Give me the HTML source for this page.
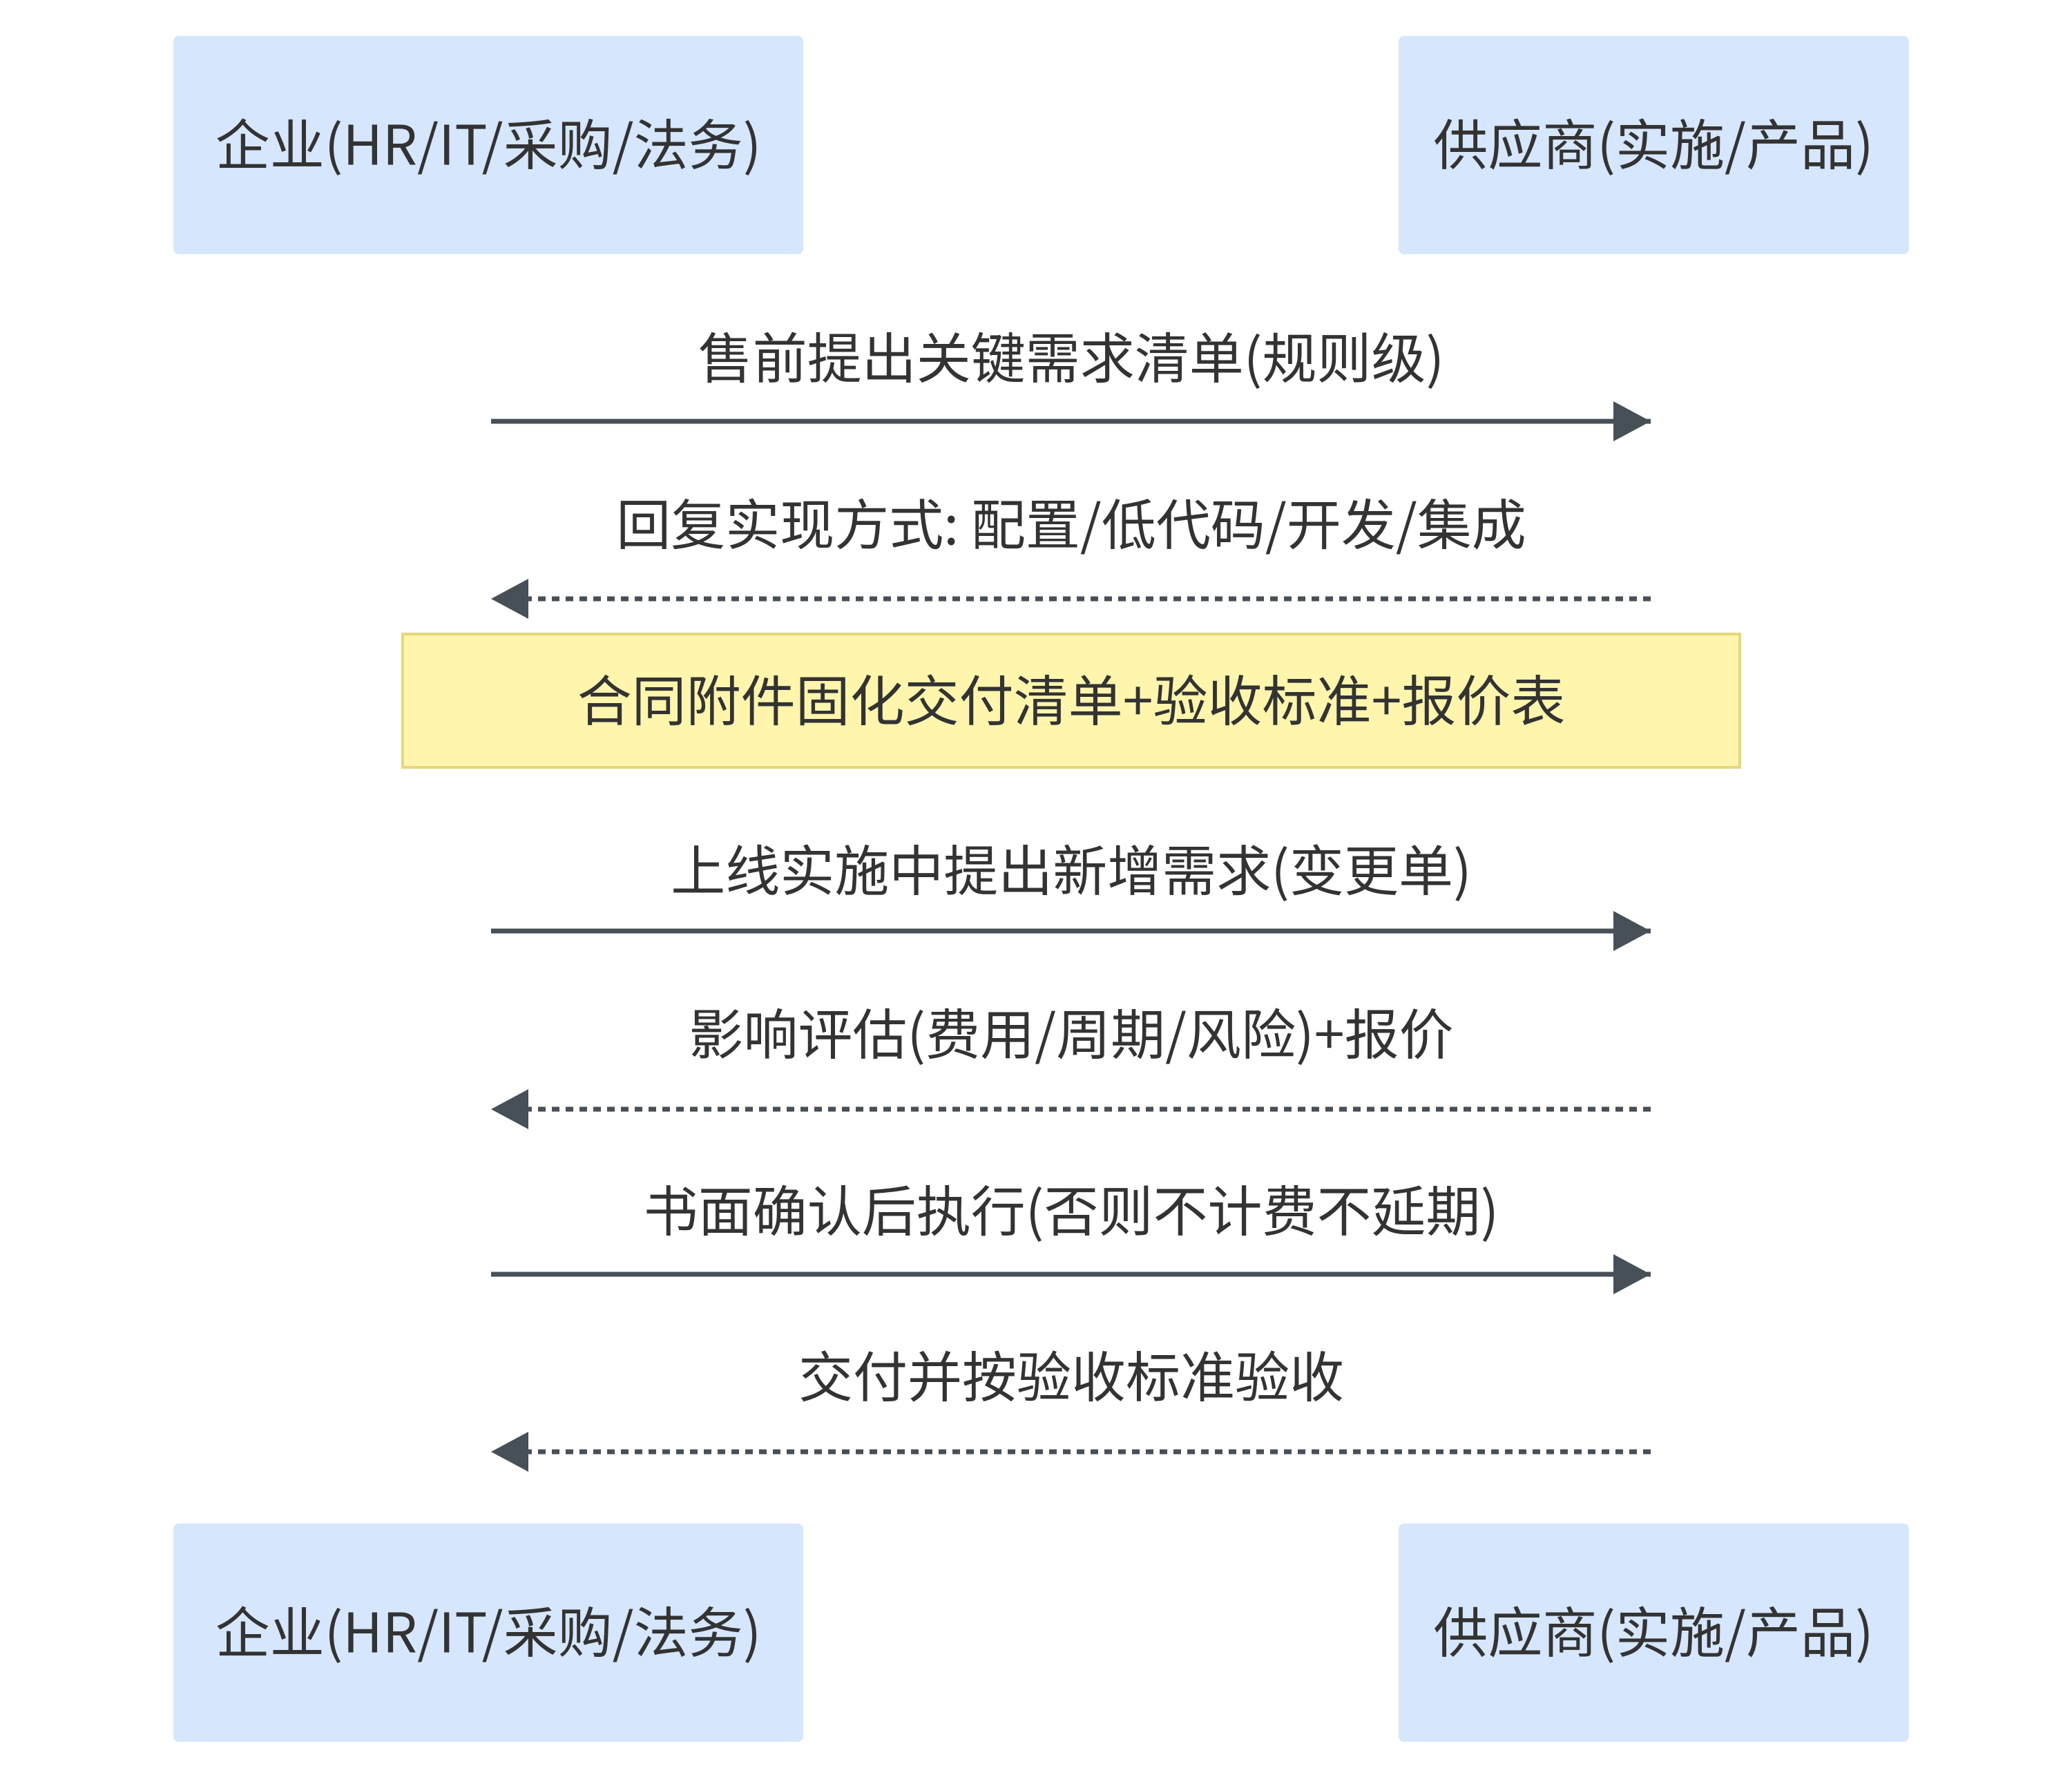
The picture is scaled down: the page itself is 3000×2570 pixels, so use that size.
<!DOCTYPE html>
<html><head><meta charset="utf-8"><style>
html,body{margin:0;padding:0;background:#fff;}
svg text{font-family:"Noto Sans CJK SC","Liberation Sans",sans-serif;fill:#333;font-size:79px;text-anchor:middle;dominant-baseline:central;}
</style></head><body>
<svg width="3000" height="2565" viewBox="0 0 3000 2565" xmlns="http://www.w3.org/2000/svg">
<defs>
<marker id="ah" markerWidth="54" markerHeight="58" refX="54" refY="29" orient="auto" markerUnits="userSpaceOnUse">
<path d="M0,0 L54,29 L0,58 Z" fill="#474f57"/></marker>
</defs>
<rect x="251" y="52" width="912" height="316" rx="8" fill="#d6e6fc"/>
<rect x="2025" y="52" width="739" height="316" rx="8" fill="#d6e6fc"/>
<rect x="251" y="2206" width="912" height="316" rx="8" fill="#d6e6fc"/>
<rect x="2025" y="2206" width="739" height="316" rx="8" fill="#d6e6fc"/>
<text x="707" y="204">企业(HR/IT/采购/法务)</text>
<text x="2394" y="204">供应商(实施/产品)</text>
<text x="707" y="2358">企业(HR/IT/采购/法务)</text>
<text x="2394" y="2358">供应商(实施/产品)</text>

<rect x="583" y="918" width="1936" height="193" fill="#fff5ad" stroke="#e6d77a" stroke-width="4"/>
<text x="1551" y="1009">合同附件固化交付清单+验收标准+报价表</text>

<text x="1551" y="513">售前提出关键需求清单(规则级)</text>
<line x1="711" y1="610" x2="2390" y2="610" stroke="#474f57" stroke-width="7" marker-end="url(#ah)"/>

<text x="1551" y="754">回复实现方式: 配置/低代码/开发/集成</text>
<line x1="2390" y1="867" x2="711" y2="867" stroke="#474f57" stroke-width="7" stroke-dasharray="11 9" marker-end="url(#ah)"/>

<text x="1551" y="1255">上线实施中提出新增需求(变更单)</text>
<line x1="711" y1="1348" x2="2390" y2="1348" stroke="#474f57" stroke-width="7" marker-end="url(#ah)"/>

<text x="1551" y="1492">影响评估(费用/周期/风险)+报价</text>
<line x1="2390" y1="1606" x2="711" y2="1606" stroke="#474f57" stroke-width="7" stroke-dasharray="11 9" marker-end="url(#ah)"/>

<text x="1551" y="1748">书面确认后执行(否则不计费不延期)</text>
<line x1="711" y1="1845" x2="2390" y2="1845" stroke="#474f57" stroke-width="7" marker-end="url(#ah)"/>

<text x="1551" y="1988">交付并按验收标准验收</text>
<line x1="2390" y1="2102" x2="711" y2="2102" stroke="#474f57" stroke-width="7" stroke-dasharray="11 9" marker-end="url(#ah)"/>
</svg>
</body></html>
